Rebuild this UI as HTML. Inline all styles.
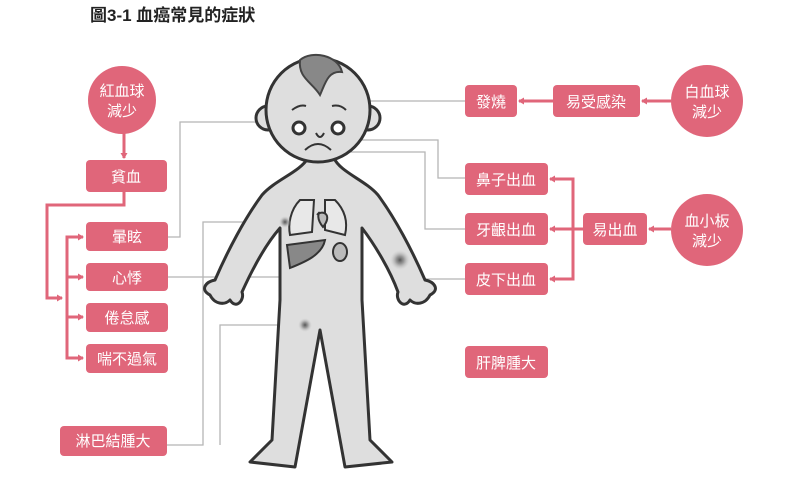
<!DOCTYPE html>
<html><head><meta charset="utf-8"><style>
html,body{margin:0;padding:0;background:#fff;}
svg{display:block;font-family:"Liberation Sans","Noto Sans CJK TC",sans-serif;}
.b{fill:#e0667a;}
.t{fill:#fff;font-size:15px;text-anchor:middle;}
.g{fill:none;stroke:#b5b5b5;stroke-width:1.3;}
.p{fill:none;stroke:#e0667a;stroke-width:3;}
</style></head><body>
<svg width="800" height="495" viewBox="0 0 800 495">
<defs><marker id="a" markerUnits="userSpaceOnUse" markerWidth="8" markerHeight="8" refX="5" refY="4" orient="auto"><path d="M0,0.5 L6,4 L0,7.5 z" fill="#e0667a"/></marker>
<radialGradient id="d"><stop offset="0" stop-color="#555"/><stop offset="0.4" stop-color="#888" stop-opacity=".8"/><stop offset="1" stop-color="#ccc" stop-opacity="0"/></radialGradient></defs>
<text x="90" y="21" font-size="17" font-weight="bold" fill="#222">圖3-1 血癌常見的症狀</text>

<path class="g" d="M168,237 H180 V122 H295"/>
<path class="g" d="M465,101 H330"/>
<path class="g" d="M330,140 H438 V178 H465"/>
<path class="g" d="M330,152 H425 V229 H465"/>
<path class="g" d="M400,279 H465"/>
<path class="g" d="M168,277 H328 V258"/>
<path class="g" d="M307,255 V310 H345"/>
<path class="g" d="M285,222 H203 V445 H167"/>
<path class="g" d="M305,325 H220 V445"/>

<g stroke="#333" stroke-width="3" fill="#dedede" stroke-linejoin="round">
<path d="M308,158 C300,172 275,180 262,195 C245,218 228,250 215,280 C205,282 200,290 210,295 C215,305 225,305 230,300 C236,310 245,300 242,292 C252,270 265,245 280,228 L280,300 L272,440 L250,462 L295,467 L320,330 L345,467 L392,462 L370,440 L362,300 L362,228 C375,245 390,270 398,292 C395,300 404,310 410,300 C415,305 425,305 430,295 C440,290 435,282 425,280 C412,250 395,218 378,195 C365,180 340,172 334,158 Z"/>
<circle cx="268" cy="118" r="12"/><circle cx="368" cy="118" r="12"/>
<circle cx="318" cy="110" r="52"/>
</g>
<path d="M300,60 C312,50 338,55 342,72 C328,70 325,84 320,95 C312,82 298,78 300,60 Z" fill="#888" stroke="#444" stroke-width="2"/>
<g stroke="#333" stroke-width="2" fill="none">
<circle cx="299" cy="128" r="6" fill="#fff" stroke-width="3"/><circle cx="338" cy="128" r="6" fill="#fff" stroke-width="3"/>
<path d="M316,133 q4,8 8,0"/><path d="M305,150 q13,-12 26,0"/>
<path d="M292,110 q8,-6 14,-4"/><path d="M332,106 q8,-2 14,4"/>
</g>
<g stroke="#333" stroke-width="2" fill="#e8e8e8">
<path d="M300,200 C290,210 288,225 290,235 L312,232 L314,200 Z"/>
<path d="M325,200 L325,230 L345,235 C348,222 345,210 335,200 Z"/>
<path d="M317,215 c6,-6 16,0 6,12 c-10,-12 0,-18 -6,-12z" fill="#bbb"/>
<path d="M287,245 L325,240 C322,255 305,262 290,268 Z" fill="#888"/>
<ellipse cx="340" cy="252" rx="7" ry="9" fill="#bbb"/>
</g>
<circle cx="285" cy="222" r="6" fill="url(#d)"/><circle cx="305" cy="325" r="7" fill="url(#d)"/><circle cx="400" cy="260" r="10" fill="url(#d)"/>

<path class="p" d="M124,133 V158" marker-end="url(#a)"/>
<path class="p" d="M124,192 V205 H47 V298 H62" marker-end="url(#a)"/>
<path class="p" d="M83,237 H67 V358 H83" marker-end="url(#a)"/>
<path class="p" d="M67,277 H83" marker-end="url(#a)"/>
<path class="p" d="M67,317 H83" marker-end="url(#a)"/>
<path class="p" d="M67,237 H83" marker-end="url(#a)"/>
<path class="p" d="M671,101 H642" marker-end="url(#a)"/>
<path class="p" d="M553,101 H519" marker-end="url(#a)"/>
<path class="p" d="M671,229 H649" marker-end="url(#a)"/>
<path class="p" d="M583,229 H550" marker-end="url(#a)"/>
<path class="p" d="M566,179 H573 V279 H550" marker-end="url(#a)"/>
<path class="p" d="M566,179 H550" marker-end="url(#a)"/>

<circle class="b" cx="122" cy="100" r="34"/>
<text class="t" x="122" y="96">紅血球</text><text class="t" x="122" y="116">減少</text>
<circle class="b" cx="707" cy="101" r="36"/>
<text class="t" x="707" y="97">白血球</text><text class="t" x="707" y="117">減少</text>
<circle class="b" cx="707" cy="230" r="36"/>
<text class="t" x="707" y="226">血小板</text><text class="t" x="707" y="246">減少</text>

<g>
<rect class="b" x="86" y="160" width="81" height="32" rx="4"/><text class="t" x="126" y="182">貧血</text>
<rect class="b" x="86" y="222" width="82" height="29" rx="4"/><text class="t" x="127" y="242">暈眩</text>
<rect class="b" x="86" y="263" width="82" height="28" rx="4"/><text class="t" x="127" y="283">心悸</text>
<rect class="b" x="86" y="303" width="82" height="29" rx="4"/><text class="t" x="127" y="323">倦怠感</text>
<rect class="b" x="86" y="344" width="82" height="29" rx="4"/><text class="t" x="127" y="364">喘不過氣</text>
<rect class="b" x="60" y="426" width="107" height="30" rx="4"/><text class="t" x="113" y="446">淋巴結腫大</text>
<rect class="b" x="465" y="85" width="52" height="32" rx="4"/><text class="t" x="491" y="107">發燒</text>
<rect class="b" x="553" y="85" width="87" height="32" rx="4"/><text class="t" x="596" y="107">易受感染</text>
<rect class="b" x="465" y="163" width="83" height="32" rx="4"/><text class="t" x="506" y="185">鼻子出血</text>
<rect class="b" x="465" y="213" width="83" height="32" rx="4"/><text class="t" x="506" y="235">牙齦出血</text>
<rect class="b" x="583" y="213" width="64" height="32" rx="4"/><text class="t" x="615" y="235">易出血</text>
<rect class="b" x="465" y="263" width="83" height="32" rx="4"/><text class="t" x="506" y="285">皮下出血</text>
<rect class="b" x="465" y="346" width="83" height="32" rx="4"/><text class="t" x="506" y="368">肝脾腫大</text>
</g>
</svg>
</body></html>
